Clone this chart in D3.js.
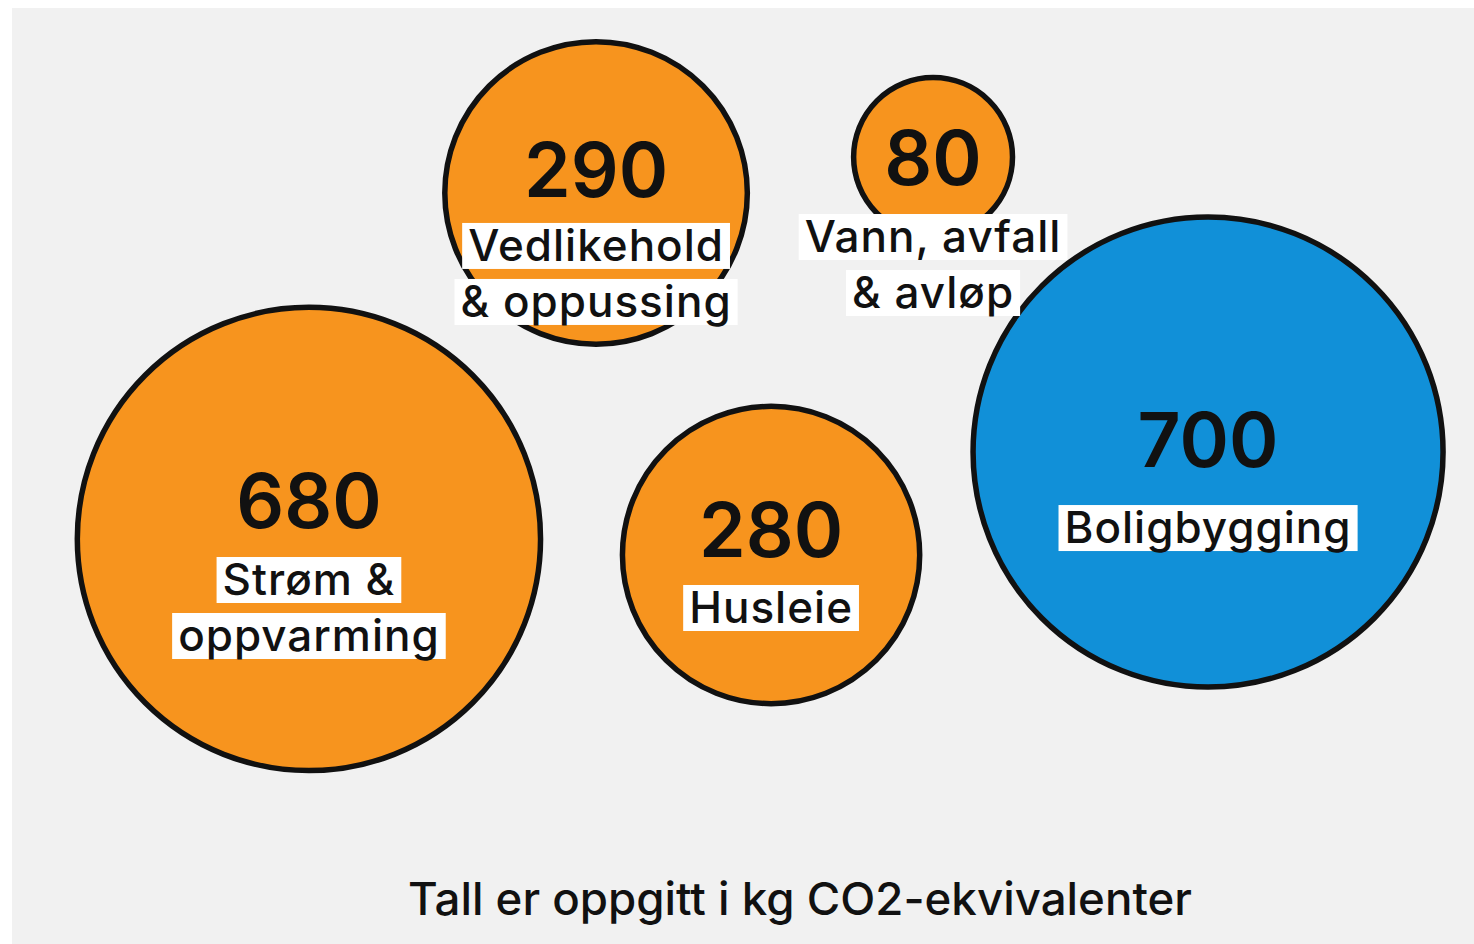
<!DOCTYPE html>
<html lang="no">
<head>
<meta charset="utf-8">
<script src="https://cdn.jsdelivr.net/npm/d3@7"></script>
<style>
  html, body { margin: 0; padding: 0; background: #ffffff; }
  svg { display: block; }
  text { font-family: Inter, "Noto Sans", sans-serif; fill: #111111; }
</style>
</head>
<body>
<svg id="chart" width="1474" height="944"></svg>
<script>
// Utslipp per kategori (kg CO2-ekvivalenter)
const categories = ["Strøm & oppvarming", "Vedlikehold & oppussing", "Vann, avfall & avløp", "Husleie", "Boligbygging"];
const labelLines = [["Strøm &", "oppvarming"], ["Vedlikehold", "& oppussing"], ["Vann, avfall", "& avløp"], ["Husleie"], ["Boligbygging"]];
const values = [680, 290, 80, 280, 700];
const groups = ["bolig", "bolig", "bolig", "bolig", "bygg"];
const footnote = "Tall er oppgitt i kg CO2-ekvivalenter";

// Plassering av boblene i prosent av tegneflaten, og forskyvning av teksten
const layout = [
  { px: 20.31, py: 56.73, numDy: -11, lblDy: 56 },
  { px: 39.95, py: 19.76, numDy: 4,   lblDy: 68 },
  { px: 63.00, py: 15.92, numDy: 28,  lblDy: 95 },
  { px: 51.92, py: 58.44, numDy: 2,   lblDy: 68 },
  { px: 81.81, py: 47.44, numDy: 15,  lblDy: 91 }
];

const area = { left: 12, top: 8, right: 1474, bottom: 944 };

const svg = d3.select("#chart");

svg.append("rect")
  .attr("x", area.left).attr("y", area.top)
  .attr("width", area.right - area.left).attr("height", area.bottom - area.top)
  .attr("fill", "#f1f1f1");

const x = d3.scaleLinear().domain([0, 100]).range([area.left, area.right]);
const y = d3.scaleLinear().domain([0, 100]).range([area.top, area.bottom]);
const r = d3.scaleSqrt().domain([0, 700]).range([0, 235]);
const color = d3.scaleOrdinal().domain(["bolig", "bygg"]).range(["#f7941e", "#1190d8"]);

const data = categories.map((c, i) => ({
  name: c, value: values[i], lines: labelLines[i], group: groups[i], ...layout[i]
}));

// Bobler
svg.append("g").selectAll("circle")
  .data(data)
  .join("circle")
  .attr("cx", d => x(d.px))
  .attr("cy", d => y(d.py))
  .attr("r", d => r(d.value))
  .attr("fill", d => color(d.group))
  .attr("stroke", "#111111")
  .attr("stroke-width", 5.5);

// Tall og etiketter
const labels = svg.append("g").selectAll("g")
  .data(data)
  .join("g")
  .attr("transform", d => `translate(${x(d.px)},${y(d.py)})`);

labels.append("text")
  .attr("text-anchor", "middle")
  .attr("y", d => d.numDy)
  .attr("font-size", 75)
  .attr("font-weight", 600)
  .text(d => d3.format("d")(d.value));

const lineH = 56;
labels.each(function (d) {
  const g = d3.select(this);
  d.lines.forEach((line, j) => {
    const base = d.lblDy + j * lineH;
    const t = g.append("text")
      .attr("text-anchor", "middle")
      .attr("y", base)
      .attr("font-size", 44)
      .attr("font-weight", 500)
      .attr("letter-spacing", 1)
      .text(line);
    const w = t.node().getComputedTextLength();
    g.insert("rect", "text")
      .attr("x", -w / 2 - 6)
      .attr("y", base - 38)
      .attr("width", w + 12)
      .attr("height", 46)
      .attr("fill", "#ffffff");
  });
});

// Fotnote
svg.append("text")
  .attr("x", 800)
  .attr("y", 915)
  .attr("text-anchor", "middle")
  .attr("font-size", 45)
  .attr("font-weight", 500)
  .attr("textLength", 784)
  .attr("lengthAdjust", "spacingAndGlyphs")
  .text(footnote);
</script>
</body>
</html>
